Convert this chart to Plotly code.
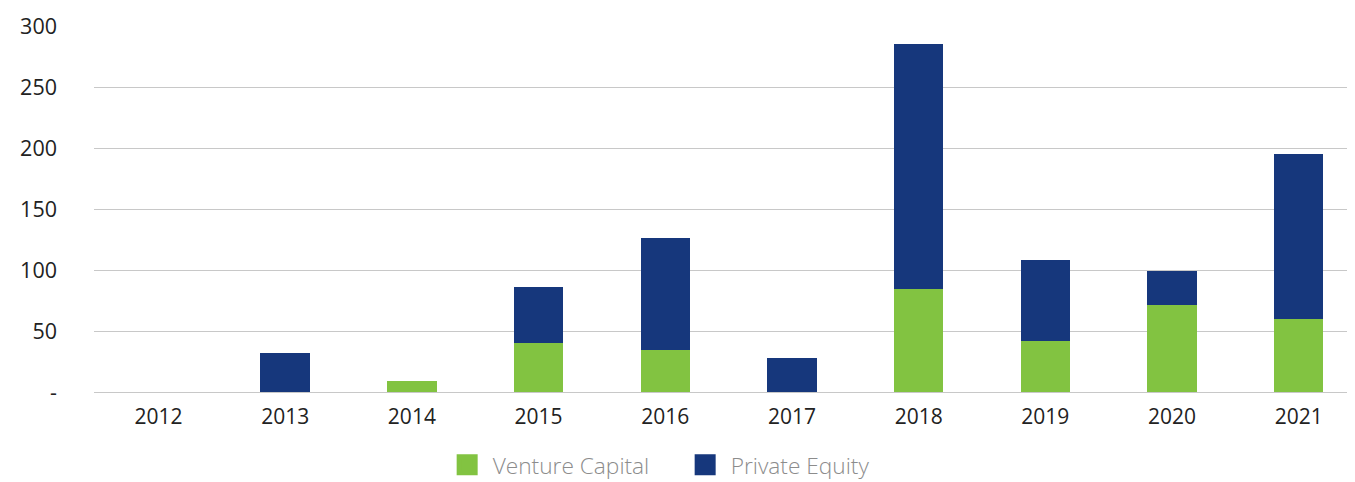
import plotly.graph_objs as go

# Data
years = ['2012', '2013', '2014', '2015', '2016', '2017', '2018', '2019', '2020', '2021']
venture_capital = [0, 0, 9.4, 40.2, 34.5, 0, 84.4, 41.8, 71.3, 59.8]
private_equity = [0, 31.6, 0, 46, 92, 28, 200.8, 66.4, 28.1, 135.2]

y_ticks = [0, 50, 100, 150, 200, 250, 300]
y_ticktext = ['-', '50', '100', '150', '200', '250', '300']

GREEN = '#82c341'
NAVY = '#16377c'

fig = go.Figure()
fig.add_trace(go.Bar(x=years, y=venture_capital, name='Venture Capital', showlegend=False,
                     marker=dict(color=GREEN, line=dict(width=0)), width=0.39))
fig.add_trace(go.Bar(x=years, y=private_equity, name='Private Equity', showlegend=False,
                     marker=dict(color=NAVY, line=dict(width=0)), width=0.39))

# legend entries with bigger square swatches
for name, col in [('Venture Capital', GREEN), ('Private Equity', NAVY)]:
    fig.add_trace(go.Scatter(x=[None], y=[None], mode='markers', name=name,
                             marker=dict(symbol='square', size=16, color=col,
                                         line=dict(width=5, color=col))))

# page body shifts the figure 8px right/down, margins allow for that
fig.update_layout(
    barmode='stack',
    width=1355, height=482,
    margin=dict(l=86, r=8, t=18, b=98),
    plot_bgcolor='white', paper_bgcolor='white',
    font=dict(family='Open Sans', size=20, color='#222222'),
    showlegend=True,
    legend=dict(orientation='h', x=0.2757, xanchor='left',
                yref='container', y=0.052, yanchor='middle',
                font=dict(size=22.7, color='#8c8c8c', weight=300), traceorder='normal',
                itemsizing='trace', itemwidth=41, entrywidth=182),
    xaxis=dict(type='category', range=[-0.509, 9.444], showgrid=False,
               showline=False, zeroline=False, ticks='', automargin=False,
               ticklabelstandoff=10,
               tickfont=dict(size=21, color='#222222')),
    yaxis=dict(range=[0, 300], tickvals=y_ticks, ticktext=y_ticktext,
               showgrid=True, gridcolor='#c8c8c8', gridwidth=1,
               zeroline=True, zerolinecolor='#c8c8c8', zerolinewidth=1,
               showline=False, ticks='', ticklabelstandoff=36, automargin=False,
               tickfont=dict(size=21.5, color='#222222')),
)

fig.write_html("out.html")
